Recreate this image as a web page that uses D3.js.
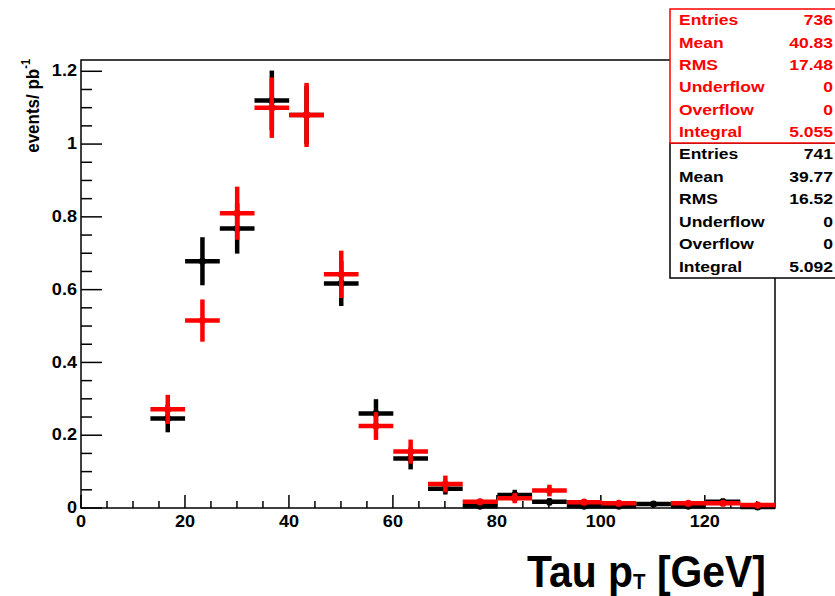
<!DOCTYPE html>
<html>
<head>
<meta charset="utf-8">
<script src="https://cdn.jsdelivr.net/npm/d3@7"></script>
<style>
  body { margin: 0; background: #fff; }
  svg text { font-family: "Liberation Sans", Arial, Helvetica, sans-serif; font-weight: bold; }
</style>
</head>
<body>
<div id="chart"></div>
<script>
// tau pT distribution, two samples drawn as error-bar histograms
const binCenters = [3.34, 10.01, 16.69, 23.36, 30.04, 36.71, 43.39, 50.06, 56.74, 63.41,
                    70.09, 76.76, 83.44, 90.11, 96.79, 103.46, 110.14, 116.81, 123.49, 130.16];
const binWidth = 6.675;

const blackVals = [0, 0, 0.246, 0.678, 0.768, 1.12, 1.08, 0.617, 0.26, 0.136,
                   0.053, 0.005, 0.036, 0.017, 0.005, 0.005, 0.011, 0.005, 0.017, 0.003];
const blackErrs = [0, 0, 0.038, 0.066, 0.069, 0.082, 0.08, 0.062, 0.039, 0.03,
                   0.016, 0.005, 0.014, 0.01, 0.005, 0.005, 0.007, 0.005, 0.009, 0.003];
const redVals = [0, 0, 0.271, 0.515, 0.81, 1.10, 1.08, 0.642, 0.225, 0.155,
                 0.066, 0.017, 0.027, 0.048, 0.016, 0.013, 0, 0.013, 0.013, 0.008];
const redErrs = [0, 0, 0.04, 0.058, 0.073, 0.083, 0.088, 0.065, 0.038, 0.033,
                 0.023, 0.008, 0.014, 0.016, 0.007, 0.006, 0, 0.006, 0.006, 0.005];

const xTicks = [0, 20, 40, 60, 80, 100, 120];
const yTicks = [0, 0.2, 0.4, 0.6, 0.8, 1, 1.2];
const yTickLabels = ['0', '0.2', '0.4', '0.6', '0.8', '1', '1.2'];

const redStats = [['Entries', '736'], ['Mean', '40.83'], ['RMS', '17.48'],
                  ['Underflow', '0'], ['Overflow', '0'], ['Integral', '5.055']];
const blackStats = [['Entries', '741'], ['Mean', '39.77'], ['RMS', '16.52'],
                    ['Underflow', '0'], ['Overflow', '0'], ['Integral', '5.092']];

(() => {
  const width = 835, height = 596;
  const pL = 81, pR = 775, pT = 60, pB = 508;
  const STRETCH = 1.13; // picture text is a bit wider than normal

  const svg = d3.select('#chart').append('svg')
    .attr('width', width).attr('height', height);

  const x = d3.scaleLinear().domain([0, 133.5]).range([pL, pR]);
  const y = d3.scaleLinear().domain([0, 1.231]).range([pB, pT]);

  function label(g, tx, ty, str, opts) {
    return g.append('text')
      .attr('transform', `translate(${tx},${ty}) scale(${STRETCH},1)`)
      .attr('font-size', opts.size)
      .attr('fill', opts.fill || '#000')
      .attr('text-anchor', opts.anchor || 'start')
      .attr('dominant-baseline', 'central')
      .text(str);
  }

  // frame
  svg.append('rect')
    .attr('x', pL).attr('y', pT)
    .attr('width', pR - pL).attr('height', pB - pT)
    .attr('fill', 'none').attr('stroke', '#000').attr('stroke-width', 1.5);

  // y ticks (inside, to the right)
  const yMinor = d3.range(0, 1.2001, 0.05);
  svg.append('g').selectAll('line').data(yMinor).join('line')
    .attr('x1', pL).attr('x2', d => pL + (Math.abs(d * 5 - Math.round(d * 5)) < 1e-6 ? 21 : 11))
    .attr('y1', d => y(d)).attr('y2', d => y(d))
    .attr('stroke', '#000').attr('stroke-width', 1.5);

  const xMinor = d3.range(0, 131, 5);
  svg.append('g').selectAll('line').data(xMinor).join('line')
    .attr('x1', d => x(d)).attr('x2', d => x(d))
    .attr('y1', pB).attr('y2', d => pB - (d % 20 === 0 ? 13 : 7))
    .attr('stroke', '#000').attr('stroke-width', 1.5);

  // tick labels
  const lab = svg.append('g');
  yTicks.forEach((v, i) => label(lab, 77, y(v), yTickLabels[i], { size: 16, anchor: 'end' }));
  xTicks.forEach(v => label(lab, x(v), pB + 14, String(v), { size: 16, anchor: 'middle' }));

  // axis titles
  const yt = svg.append('text')
    .attr('transform', `translate(33,59) rotate(-90) scale(1,${STRETCH})`)
    .attr('text-anchor', 'end').attr('dominant-baseline', 'central')
    .attr('font-size', 17);
  yt.append('tspan').text('events/ pb');
  yt.append('tspan').attr('dy', -7).attr('font-size', 11).text('-1');

  const xt = svg.append('text')
    .attr('transform', 'translate(766,571) scale(0.93,1)')
    .attr('text-anchor', 'end').attr('dominant-baseline', 'central')
    .attr('font-size', 44);
  xt.append('tspan').text('Tau p');
  xt.append('tspan').attr('dy', 11).attr('font-size', 22).text('T');
  xt.append('tspan').attr('dy', -11).text(' [GeV]');

  // error-bar histograms
  function drawSeries(vals, errs, color) {
    const pts = binCenters.map((c, i) => ({ c, v: vals[i], e: errs[i] })).filter(d => d.v > 0);
    const g = svg.append('g');
    g.selectAll('.h').data(pts).join('line')
      .attr('x1', d => x(d.c - binWidth / 2)).attr('x2', d => x(d.c + binWidth / 2))
      .attr('y1', d => y(d.v)).attr('y2', d => y(d.v))
      .attr('stroke', color).attr('stroke-width', 4.5);
    g.selectAll('.v').data(pts).join('line')
      .attr('x1', d => x(d.c)).attr('x2', d => x(d.c))
      .attr('y1', d => y(Math.max(0, d.v - d.e))).attr('y2', d => y(d.v + d.e))
      .attr('stroke', color).attr('stroke-width', 4.5);
    g.selectAll('circle').data(pts).join('circle')
      .attr('cx', d => x(d.c)).attr('cy', d => y(d.v)).attr('r', 3.6)
      .attr('fill', color);
  }
  drawSeries(blackVals, blackErrs, '#000');
  drawSeries(redVals, redErrs, '#ff0000');

  // stats boxes
  function statsBox(rows, color, y0, y1) {
    const g = svg.append('g');
    g.append('rect').attr('x', 670).attr('y', y0).attr('width', 180).attr('height', y1 - y0)
      .attr('fill', '#fff').attr('stroke', color).attr('stroke-width', 1.5);
    const step = (y1 - y0) / rows.length;
    rows.forEach((r, i) => {
      const cy = y0 + step * (i + 0.5);
      label(g, 679, cy, r[0], { size: 15.5, fill: color });
      label(g, 833, cy, r[1], { size: 15.5, fill: color, anchor: 'end' });
    });
  }
  statsBox(blackStats, '#000', 143, 278);
  statsBox(redStats, '#ff0000', 9, 143);
})();
</script>
</body>
</html>
